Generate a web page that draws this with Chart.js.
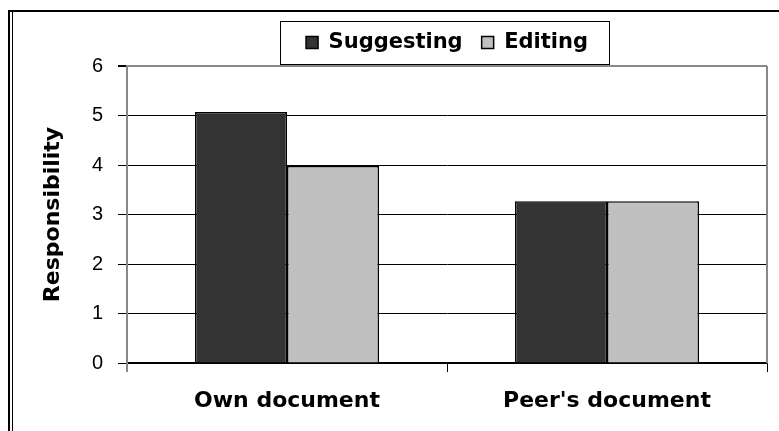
<!DOCTYPE html>
<html>
<head>
<meta charset="utf-8">
<script src="https://cdn.jsdelivr.net/npm/chart.js@4/dist/chart.umd.min.js"></script>
<style>
  body { margin: 0; background: #fff; }
  canvas { display: block; }
</style>
</head>
<body>
<canvas id="myChart" width="779" height="431"></canvas>
<script>
const categories = ['Own document', "Peer's document"];
const suggesting = [5.07, 3.27];
const editing = [3.98, 3.27];
const yTicks = [0, 1, 2, 3, 4, 5, 6];

const ctx = document.getElementById('myChart');

// frame round the picture, plus the gray plot border on the right
const framePlugin = {
  id: 'frame',
  beforeInit(chart) {
    const fit = chart.legend.fit;
    chart.legend.fit = function () {
      fit.bind(chart.legend)();
      this.height += 3;
    };
  },
  beforeDraw(chart) {
    const c = chart.ctx;
    c.save();
    c.fillStyle = '#fff';
    c.fillRect(0, 0, chart.width, chart.height);
    c.restore();
  },
  afterDraw(chart) {
    const c = chart.ctx;
    const a = chart.chartArea;
    c.save();
    c.strokeStyle = '#000';
    c.lineWidth = 2;
    c.beginPath();
    c.moveTo(8, 11); c.lineTo(chart.width, 11);
    c.moveTo(9, 10); c.lineTo(9, chart.height);
    c.stroke();
    c.lineWidth = 1;
    c.beginPath();
    c.moveTo(12.5, 12); c.lineTo(12.5, chart.height);
    c.stroke();
    // right border of plot and the left axis running past the tick
    c.strokeStyle = '#888';
    c.lineWidth = 2;
    c.beginPath();
    c.moveTo(a.right, a.top); c.lineTo(a.right, a.bottom);
    c.moveTo(a.left, a.bottom); c.lineTo(a.left, a.bottom + 9);
    c.stroke();
    // legend box
    const hb = chart.legend.legendHitBoxes;
    if (hb && hb.length) {
      const first = hb[0], last = hb[hb.length - 1];
      const l = Math.round(first.left - 26) + 0.5;
      const r = Math.round(last.left + last.width + 21) + 0.5;
      const t = Math.round(first.top - 11) + 0.5;
      const b = Math.round(first.top + first.height + 11) + 0.5;
      c.strokeStyle = '#000';
      c.lineWidth = 1;
      c.strokeRect(l, t, r - l, b - t);
    }
    c.restore();
  }
};

new Chart(ctx, {
  type: 'bar',
  data: {
    labels: categories,
    datasets: [{
      label: 'Suggesting',
      data: suggesting,
      backgroundColor: '#333333',
      borderColor: '#000',
      borderWidth: 1.5,
      categoryPercentage: 0.575,
      barPercentage: 1
    }, {
      label: 'Editing',
      data: editing,
      backgroundColor: '#c0c0c0',
      borderColor: '#000',
      borderWidth: 1.5,
      categoryPercentage: 0.575,
      barPercentage: 1
    }]
  },
  options: {
    responsive: false,
    devicePixelRatio: 1,
    animation: false,
    layout: { padding: { top: 13, left: 40, right: 12, bottom: 0 } },
    plugins: {
      tooltip: { enabled: false },
      legend: {
        position: 'top',
        fullSize: false,
        labels: {
          boxWidth: 12,
          boxHeight: 12,
          padding: 19,
          color: '#000',
          font: { family: 'DejaVu Sans', weight: 'bold', size: 21 }
        }
      }
    },
    scales: {
      x: {
        afterFit(scale) { scale.height = 68; },
        grid: {
          display: true,
          drawOnChartArea: false,
          color: '#000',
          tickLength: 9
        },
        border: { color: '#000', width: 1.5 },
        ticks: {
          color: '#000',
          padding: 16,
          font: { family: 'DejaVu Sans', weight: 'bold', size: 22 }
        }
      },
      y: {
        min: 0,
        max: 6,
        afterFit(scale) { scale.width = 87; },
        afterBuildTicks(scale) { scale.ticks = yTicks.map(v => ({ value: v })); },
        grid: {
          color: c => (c.tick && c.tick.value === 6 ? '#888' : '#000'),
          lineWidth: c => (c.tick && c.tick.value === 6 ? 2 : 1),
          tickColor: '#000',
          tickLength: 9
        },
        border: { color: '#888', width: 2 },
        ticks: {
          color: '#000',
          padding: 15,
          font: { family: 'Liberation Sans', size: 20 }
        },
        title: {
          display: true,
          text: 'Responsibility',
          color: '#000',
          padding: 0,
          font: { family: 'DejaVu Sans', weight: 'bold', size: 22 }
        }
      }
    }
  },
  plugins: [framePlugin]
});
</script>
</body>
</html>
